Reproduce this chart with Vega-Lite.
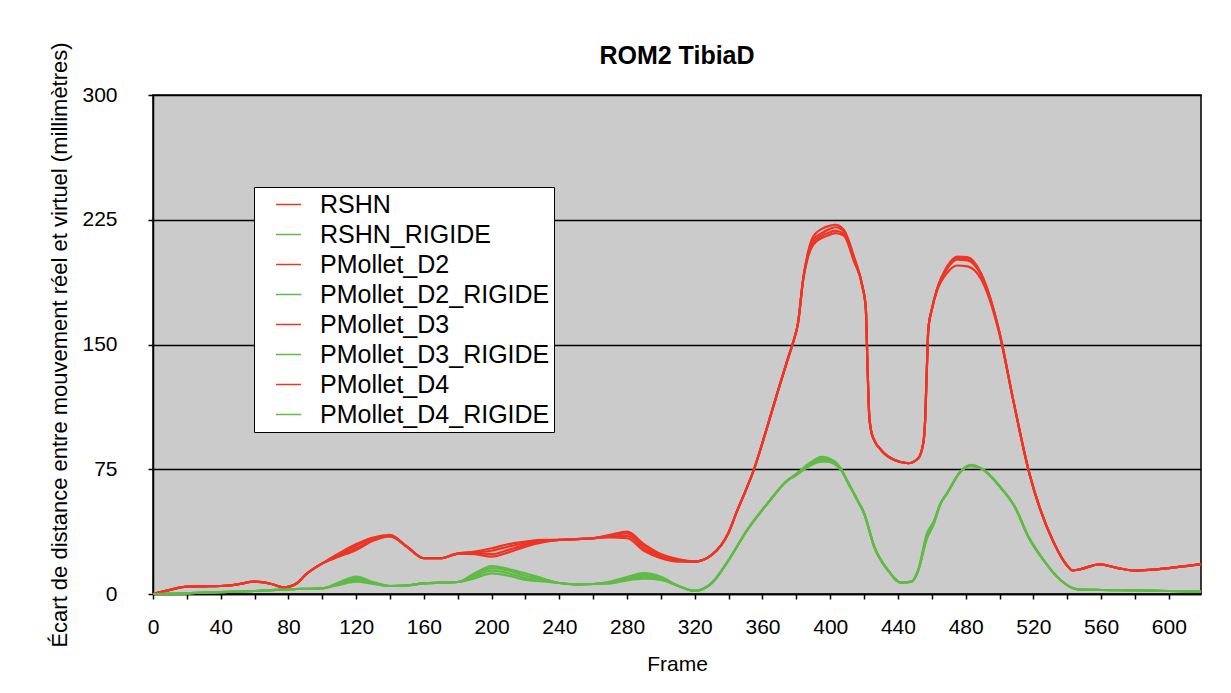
{
  "$schema": "https://vega.github.io/schema/vega-lite/v6.json",
  "width": 1048,
  "height": 499,
  "autosize": {"type": "none"},
  "padding": {"left": 153, "top": 95, "right": 30, "bottom": 99},
  "background": "white",
  "title": {"text": "ROM2 TibiaD", "fontSize": 25, "fontWeight": "bold", "font": "Liberation Sans", "color": "black", "anchor": "middle", "offset": -27},
  "config": {
    "font": "Liberation Sans",
    "view": {"fill": "#cbcbcb", "stroke": "black", "strokeWidth": 1.5}
  },
  "data": {"values": [
    {"f":0,"RSHN":0,"RSHN_RIGIDE":0,"PMollet_D2":0,"PMollet_D2_RIGIDE":0,"PMollet_D3":0,"PMollet_D3_RIGIDE":0,"PMollet_D4":0,"PMollet_D4_RIGIDE":0},
    {"f":10,"RSHN":2.5,"RSHN_RIGIDE":0.2,"PMollet_D2":2.5,"PMollet_D2_RIGIDE":0.2,"PMollet_D3":2.5,"PMollet_D3_RIGIDE":0.2,"PMollet_D4":2.5,"PMollet_D4_RIGIDE":0.2},
    {"f":20,"RSHN":4.4,"RSHN_RIGIDE":0.4,"PMollet_D2":4.4,"PMollet_D2_RIGIDE":0.4,"PMollet_D3":4.4,"PMollet_D3_RIGIDE":0.4,"PMollet_D4":4.4,"PMollet_D4_RIGIDE":0.4},
    {"f":30,"RSHN":4.6,"RSHN_RIGIDE":0.8,"PMollet_D2":4.6,"PMollet_D2_RIGIDE":0.8,"PMollet_D3":4.6,"PMollet_D3_RIGIDE":0.8,"PMollet_D4":4.6,"PMollet_D4_RIGIDE":0.8},
    {"f":40,"RSHN":4.8,"RSHN_RIGIDE":1.1,"PMollet_D2":4.8,"PMollet_D2_RIGIDE":1.1,"PMollet_D3":4.8,"PMollet_D3_RIGIDE":1.1,"PMollet_D4":4.8,"PMollet_D4_RIGIDE":1.1},
    {"f":50,"RSHN":5.8,"RSHN_RIGIDE":1.4,"PMollet_D2":5.8,"PMollet_D2_RIGIDE":1.4,"PMollet_D3":5.8,"PMollet_D3_RIGIDE":1.4,"PMollet_D4":5.8,"PMollet_D4_RIGIDE":1.4},
    {"f":60,"RSHN":7.4,"RSHN_RIGIDE":1.8,"PMollet_D2":7.4,"PMollet_D2_RIGIDE":1.8,"PMollet_D3":7.4,"PMollet_D3_RIGIDE":1.8,"PMollet_D4":7.4,"PMollet_D4_RIGIDE":1.8},
    {"f":70,"RSHN":6,"RSHN_RIGIDE":2.3,"PMollet_D2":6,"PMollet_D2_RIGIDE":2.3,"PMollet_D3":6,"PMollet_D3_RIGIDE":2.3,"PMollet_D4":6,"PMollet_D4_RIGIDE":2.3},
    {"f":77,"RSHN":4,"RSHN_RIGIDE":2.6,"PMollet_D2":4,"PMollet_D2_RIGIDE":2.6,"PMollet_D3":4,"PMollet_D3_RIGIDE":2.6,"PMollet_D4":4,"PMollet_D4_RIGIDE":2.6},
    {"f":85,"RSHN":6.5,"RSHN_RIGIDE":3,"PMollet_D2":6.5,"PMollet_D2_RIGIDE":3,"PMollet_D3":6.5,"PMollet_D3_RIGIDE":3,"PMollet_D4":6.5,"PMollet_D4_RIGIDE":3},
    {"f":90,"RSHN":11.5,"RSHN_RIGIDE":3.1,"PMollet_D2":11.5,"PMollet_D2_RIGIDE":3.1,"PMollet_D3":11.5,"PMollet_D3_RIGIDE":3.1,"PMollet_D4":11.5,"PMollet_D4_RIGIDE":3.1},
    {"f":100,"RSHN":18.4,"RSHN_RIGIDE":3.4,"PMollet_D2":18.4,"PMollet_D2_RIGIDE":3.4,"PMollet_D3":18.4,"PMollet_D3_RIGIDE":3.4,"PMollet_D4":18.4,"PMollet_D4_RIGIDE":3.4},
    {"f":110,"RSHN":24.5,"RSHN_RIGIDE":7,"PMollet_D2":23.5,"PMollet_D2_RIGIDE":6.5,"PMollet_D3":23,"PMollet_D3_RIGIDE":6,"PMollet_D4":22.5,"PMollet_D4_RIGIDE":5.5},
    {"f":120,"RSHN":30,"RSHN_RIGIDE":10.4,"PMollet_D2":29,"PMollet_D2_RIGIDE":9.4,"PMollet_D3":27.5,"PMollet_D3_RIGIDE":8.4,"PMollet_D4":26.5,"PMollet_D4_RIGIDE":7.4},
    {"f":130,"RSHN":34,"RSHN_RIGIDE":7.2,"PMollet_D2":33.5,"PMollet_D2_RIGIDE":6.8,"PMollet_D3":32.5,"PMollet_D3_RIGIDE":6.4,"PMollet_D4":32,"PMollet_D4_RIGIDE":6},
    {"f":140,"RSHN":35.5,"RSHN_RIGIDE":4.8,"PMollet_D2":35,"PMollet_D2_RIGIDE":4.8,"PMollet_D3":34.8,"PMollet_D3_RIGIDE":4.8,"PMollet_D4":34.6,"PMollet_D4_RIGIDE":4.8},
    {"f":150,"RSHN":28.4,"RSHN_RIGIDE":5.2,"PMollet_D2":28.4,"PMollet_D2_RIGIDE":5.2,"PMollet_D3":28.4,"PMollet_D3_RIGIDE":5.2,"PMollet_D4":28.4,"PMollet_D4_RIGIDE":5.2},
    {"f":160,"RSHN":21.5,"RSHN_RIGIDE":6.4,"PMollet_D2":21.5,"PMollet_D2_RIGIDE":6.4,"PMollet_D3":21.5,"PMollet_D3_RIGIDE":6.4,"PMollet_D4":21.5,"PMollet_D4_RIGIDE":6.4},
    {"f":170,"RSHN":21.5,"RSHN_RIGIDE":6.8,"PMollet_D2":21.5,"PMollet_D2_RIGIDE":6.8,"PMollet_D3":21.5,"PMollet_D3_RIGIDE":6.8,"PMollet_D4":21.5,"PMollet_D4_RIGIDE":6.8},
    {"f":180,"RSHN":24.3,"RSHN_RIGIDE":7.2,"PMollet_D2":24.3,"PMollet_D2_RIGIDE":7.2,"PMollet_D3":24.3,"PMollet_D3_RIGIDE":7.2,"PMollet_D4":24.3,"PMollet_D4_RIGIDE":7.2},
    {"f":190,"RSHN":25.5,"RSHN_RIGIDE":12.5,"PMollet_D2":25,"PMollet_D2_RIGIDE":11.5,"PMollet_D3":24.5,"PMollet_D3_RIGIDE":10.5,"PMollet_D4":24,"PMollet_D4_RIGIDE":9.5},
    {"f":200,"RSHN":27.5,"RSHN_RIGIDE":16.8,"PMollet_D2":26,"PMollet_D2_RIGIDE":15.5,"PMollet_D3":24,"PMollet_D3_RIGIDE":14,"PMollet_D4":22.5,"PMollet_D4_RIGIDE":12.4},
    {"f":210,"RSHN":30,"RSHN_RIGIDE":15,"PMollet_D2":28.5,"PMollet_D2_RIGIDE":14,"PMollet_D3":26.5,"PMollet_D3_RIGIDE":12.5,"PMollet_D4":25,"PMollet_D4_RIGIDE":11},
    {"f":220,"RSHN":31.5,"RSHN_RIGIDE":12.4,"PMollet_D2":30.5,"PMollet_D2_RIGIDE":11,"PMollet_D3":29.5,"PMollet_D3_RIGIDE":9.5,"PMollet_D4":28.5,"PMollet_D4_RIGIDE":8.4},
    {"f":230,"RSHN":32.5,"RSHN_RIGIDE":9.4,"PMollet_D2":32,"PMollet_D2_RIGIDE":8.8,"PMollet_D3":31.5,"PMollet_D3_RIGIDE":8.2,"PMollet_D4":31,"PMollet_D4_RIGIDE":7.6},
    {"f":240,"RSHN":32.5,"RSHN_RIGIDE":6.6,"PMollet_D2":32.5,"PMollet_D2_RIGIDE":6.6,"PMollet_D3":32.5,"PMollet_D3_RIGIDE":6.6,"PMollet_D4":32.5,"PMollet_D4_RIGIDE":6.6},
    {"f":250,"RSHN":33,"RSHN_RIGIDE":5.8,"PMollet_D2":33,"PMollet_D2_RIGIDE":5.8,"PMollet_D3":33,"PMollet_D3_RIGIDE":5.8,"PMollet_D4":33,"PMollet_D4_RIGIDE":5.8},
    {"f":260,"RSHN":33.5,"RSHN_RIGIDE":6,"PMollet_D2":33.5,"PMollet_D2_RIGIDE":6,"PMollet_D3":33.5,"PMollet_D3_RIGIDE":6,"PMollet_D4":33.5,"PMollet_D4_RIGIDE":6},
    {"f":270,"RSHN":35.5,"RSHN_RIGIDE":7.5,"PMollet_D2":35,"PMollet_D2_RIGIDE":7,"PMollet_D3":34.5,"PMollet_D3_RIGIDE":6.6,"PMollet_D4":34,"PMollet_D4_RIGIDE":6.3},
    {"f":280,"RSHN":37.5,"RSHN_RIGIDE":10.2,"PMollet_D2":36.5,"PMollet_D2_RIGIDE":9.4,"PMollet_D3":35,"PMollet_D3_RIGIDE":8.8,"PMollet_D4":33.5,"PMollet_D4_RIGIDE":8.2},
    {"f":290,"RSHN":30,"RSHN_RIGIDE":12.5,"PMollet_D2":29,"PMollet_D2_RIGIDE":11.5,"PMollet_D3":27.5,"PMollet_D3_RIGIDE":10.5,"PMollet_D4":26,"PMollet_D4_RIGIDE":9.2},
    {"f":300,"RSHN":24,"RSHN_RIGIDE":10.4,"PMollet_D2":23,"PMollet_D2_RIGIDE":9.6,"PMollet_D3":22,"PMollet_D3_RIGIDE":9,"PMollet_D4":21.5,"PMollet_D4_RIGIDE":8.4},
    {"f":310,"RSHN":21,"RSHN_RIGIDE":5,"PMollet_D2":20.5,"PMollet_D2_RIGIDE":5,"PMollet_D3":20,"PMollet_D3_RIGIDE":5,"PMollet_D4":19.5,"PMollet_D4_RIGIDE":5},
    {"f":320,"RSHN":19.5,"RSHN_RIGIDE":1.9,"PMollet_D2":19.5,"PMollet_D2_RIGIDE":1.9,"PMollet_D3":19.5,"PMollet_D3_RIGIDE":1.9,"PMollet_D4":19.5,"PMollet_D4_RIGIDE":1.9},
    {"f":330,"RSHN":23.5,"RSHN_RIGIDE":6.5,"PMollet_D2":23.5,"PMollet_D2_RIGIDE":6.5,"PMollet_D3":23.5,"PMollet_D3_RIGIDE":6.5,"PMollet_D4":23.5,"PMollet_D4_RIGIDE":6.5},
    {"f":340,"RSHN":37,"RSHN_RIGIDE":20.4,"PMollet_D2":37,"PMollet_D2_RIGIDE":20.4,"PMollet_D3":37,"PMollet_D3_RIGIDE":20.4,"PMollet_D4":37,"PMollet_D4_RIGIDE":20.4},
    {"f":345,"RSHN":50,"PMollet_D2":50,"PMollet_D3":50,"PMollet_D4":50},
    {"f":350,"RSHN":62,"PMollet_D2":62,"PMollet_D3":62,"PMollet_D4":62},
    {"f":355,"RSHN":75,"PMollet_D2":75,"PMollet_D3":75,"PMollet_D4":75},
    {"f":360,"RSHN":91,"PMollet_D2":91,"PMollet_D3":91,"PMollet_D4":91},
    {"f":365,"RSHN":108,"PMollet_D2":108,"PMollet_D3":108,"PMollet_D4":108},
    {"f":370,"RSHN":125,"PMollet_D2":125,"PMollet_D3":125,"PMollet_D4":125},
    {"f":375,"RSHN":141.5,"PMollet_D2":141.5,"PMollet_D3":141.5,"PMollet_D4":141.5},
    {"f":378,"RSHN":151,"PMollet_D2":151,"PMollet_D3":151,"PMollet_D4":151},
    {"f":381,"RSHN":163,"PMollet_D2":163,"PMollet_D3":163,"PMollet_D4":163},
    {"f":384,"RSHN":189,"PMollet_D2":189,"PMollet_D3":189,"PMollet_D4":189},
    {"f":387,"RSHN":206,"PMollet_D2":205,"PMollet_D3":204,"PMollet_D4":203},
    {"f":390,"RSHN":215,"PMollet_D2":213,"PMollet_D3":211,"PMollet_D4":210},
    {"f":395,"RSHN":219.5,"PMollet_D2":217,"PMollet_D3":215.5,"PMollet_D4":214},
    {"f":400,"RSHN":221.5,"PMollet_D2":219.5,"PMollet_D3":217.5,"PMollet_D4":216},
    {"f":403,"RSHN":222,"PMollet_D2":220.5,"PMollet_D3":218.5,"PMollet_D4":217},
    {"f":408,"RSHN":219,"PMollet_D2":218,"PMollet_D3":216.5,"PMollet_D4":215.5},
    {"f":414,"RSHN":203,"PMollet_D2":202,"PMollet_D3":201,"PMollet_D4":200},
    {"f":419,"RSHN":185,"PMollet_D2":185,"PMollet_D3":185,"PMollet_D4":185},
    {"f":421,"RSHN":172,"PMollet_D2":172,"PMollet_D3":172,"PMollet_D4":172},
    {"f":422,"RSHN":138,"PMollet_D2":138,"PMollet_D3":138,"PMollet_D4":138},
    {"f":423,"RSHN":108,"PMollet_D2":108,"PMollet_D3":108,"PMollet_D4":108},
    {"f":424,"RSHN":99,"PMollet_D2":99,"PMollet_D3":99,"PMollet_D4":99},
    {"f":426,"RSHN":92.5,"PMollet_D2":92.5,"PMollet_D3":92.5,"PMollet_D4":92.5},
    {"f":430,"RSHN":86.6,"PMollet_D2":86.6,"PMollet_D3":86.6,"PMollet_D4":86.6},
    {"f":438,"RSHN":80.5,"PMollet_D2":80.5,"PMollet_D3":80.5,"PMollet_D4":80.5},
    {"f":446,"RSHN":78.6,"PMollet_D2":78.6,"PMollet_D3":78.6,"PMollet_D4":78.6},
    {"f":452,"RSHN":81.6,"PMollet_D2":81.6,"PMollet_D3":81.6,"PMollet_D4":81.6},
    {"f":455,"RSHN":91,"PMollet_D2":91,"PMollet_D3":91,"PMollet_D4":91},
    {"f":456,"RSHN":103,"PMollet_D2":103,"PMollet_D3":103,"PMollet_D4":103},
    {"f":457,"RSHN":133,"PMollet_D2":133,"PMollet_D3":133,"PMollet_D4":133},
    {"f":458,"RSHN":160,"PMollet_D2":160,"PMollet_D3":160,"PMollet_D4":160},
    {"f":460,"RSHN":171,"PMollet_D2":171,"PMollet_D3":171,"PMollet_D4":171},
    {"f":463,"RSHN":183,"PMollet_D2":183,"PMollet_D3":183,"PMollet_D4":182},
    {"f":469,"RSHN":196.8,"PMollet_D2":196,"PMollet_D3":195.5,"PMollet_D4":193},
    {"f":475,"RSHN":202.8,"PMollet_D2":202,"PMollet_D3":201,"PMollet_D4":197.5},
    {"f":481,"RSHN":202.5,"PMollet_D2":201.5,"PMollet_D3":200.5,"PMollet_D4":197},
    {"f":489,"RSHN":193,"PMollet_D2":192.5,"PMollet_D3":192,"PMollet_D4":189.5},
    {"f":500,"RSHN":157,"PMollet_D2":157,"PMollet_D3":157,"PMollet_D4":156},
    {"f":508,"RSHN":117,"PMollet_D2":117,"PMollet_D3":117,"PMollet_D4":117},
    {"f":518,"RSHN":71,"PMollet_D2":71,"PMollet_D3":71,"PMollet_D4":71},
    {"f":524,"RSHN":51,"PMollet_D2":51,"PMollet_D3":51,"PMollet_D4":51},
    {"f":532,"RSHN":31,"PMollet_D2":31,"PMollet_D3":31,"PMollet_D4":31},
    {"f":540,"RSHN":17,"PMollet_D2":17,"PMollet_D3":17,"PMollet_D4":17},
    {"f":543,"RSHN":14.2,"PMollet_D2":14.2,"PMollet_D3":14.2,"PMollet_D4":14.2},
    {"f":548,"RSHN":15,"PMollet_D2":15,"PMollet_D3":15,"PMollet_D4":15},
    {"f":559,"RSHN":17.8,"PMollet_D2":17.8,"PMollet_D3":17.8,"PMollet_D4":17.8},
    {"f":570,"RSHN":15.6,"PMollet_D2":15.6,"PMollet_D3":15.6,"PMollet_D4":15.6},
    {"f":580,"RSHN":14,"PMollet_D2":14,"PMollet_D3":14,"PMollet_D4":14},
    {"f":590,"RSHN":14.6,"PMollet_D2":14.6,"PMollet_D3":14.6,"PMollet_D4":14.6},
    {"f":600,"RSHN":15.6,"PMollet_D2":15.6,"PMollet_D3":15.6,"PMollet_D4":15.6},
    {"f":610,"RSHN":16.8,"PMollet_D2":16.8,"PMollet_D3":16.8,"PMollet_D4":16.8},
    {"f":619,"RSHN":18,"PMollet_D2":18,"PMollet_D3":18,"PMollet_D4":18},
    {"f":351,"RSHN_RIGIDE":38.5,"PMollet_D2_RIGIDE":38.5,"PMollet_D3_RIGIDE":38.5,"PMollet_D4_RIGIDE":38.5},
    {"f":363,"RSHN_RIGIDE":54.5,"PMollet_D2_RIGIDE":54.5,"PMollet_D3_RIGIDE":54.5,"PMollet_D4_RIGIDE":54.5},
    {"f":375,"RSHN_RIGIDE":68.5,"PMollet_D2_RIGIDE":68.5,"PMollet_D3_RIGIDE":68.5,"PMollet_D4_RIGIDE":68.5},
    {"f":379,"RSHN_RIGIDE":71.5,"PMollet_D2_RIGIDE":71.3,"PMollet_D3_RIGIDE":71,"PMollet_D4_RIGIDE":70.8},
    {"f":387,"RSHN_RIGIDE":78,"PMollet_D2_RIGIDE":77.5,"PMollet_D3_RIGIDE":77,"PMollet_D4_RIGIDE":76.5},
    {"f":395,"RSHN_RIGIDE":82.5,"PMollet_D2_RIGIDE":81.5,"PMollet_D3_RIGIDE":80.5,"PMollet_D4_RIGIDE":79.5},
    {"f":398,"RSHN_RIGIDE":82,"PMollet_D2_RIGIDE":81.3,"PMollet_D3_RIGIDE":80.3,"PMollet_D4_RIGIDE":79.5},
    {"f":406,"RSHN_RIGIDE":76,"PMollet_D2_RIGIDE":75.6,"PMollet_D3_RIGIDE":75.2,"PMollet_D4_RIGIDE":74.8},
    {"f":410,"RSHN_RIGIDE":68,"PMollet_D2_RIGIDE":68,"PMollet_D3_RIGIDE":68,"PMollet_D4_RIGIDE":68},
    {"f":416,"RSHN_RIGIDE":56.5,"PMollet_D2_RIGIDE":56.5,"PMollet_D3_RIGIDE":56.5,"PMollet_D4_RIGIDE":56.5},
    {"f":420,"RSHN_RIGIDE":48.5,"PMollet_D2_RIGIDE":48.5,"PMollet_D3_RIGIDE":48.5,"PMollet_D4_RIGIDE":48.5},
    {"f":426,"RSHN_RIGIDE":28.4,"PMollet_D2_RIGIDE":28.4,"PMollet_D3_RIGIDE":28.4,"PMollet_D4_RIGIDE":28.4},
    {"f":434,"RSHN_RIGIDE":14.4,"PMollet_D2_RIGIDE":14.4,"PMollet_D3_RIGIDE":14.4,"PMollet_D4_RIGIDE":14.4},
    {"f":442,"RSHN_RIGIDE":6.8,"PMollet_D2_RIGIDE":6.8,"PMollet_D3_RIGIDE":6.8,"PMollet_D4_RIGIDE":6.8},
    {"f":448,"RSHN_RIGIDE":7.4,"PMollet_D2_RIGIDE":7.4,"PMollet_D3_RIGIDE":7.4,"PMollet_D4_RIGIDE":7.4},
    {"f":452,"RSHN_RIGIDE":14.4,"PMollet_D2_RIGIDE":14.4,"PMollet_D3_RIGIDE":14.4,"PMollet_D4_RIGIDE":14.4},
    {"f":457,"RSHN_RIGIDE":36,"PMollet_D2_RIGIDE":34.5,"PMollet_D3_RIGIDE":33.5,"PMollet_D4_RIGIDE":33},
    {"f":461,"RSHN_RIGIDE":43.5,"PMollet_D2_RIGIDE":42.5,"PMollet_D3_RIGIDE":42,"PMollet_D4_RIGIDE":41.5},
    {"f":465,"RSHN_RIGIDE":54,"PMollet_D2_RIGIDE":54,"PMollet_D3_RIGIDE":54,"PMollet_D4_RIGIDE":54},
    {"f":469,"RSHN_RIGIDE":60.5,"PMollet_D2_RIGIDE":60.5,"PMollet_D3_RIGIDE":60.5,"PMollet_D4_RIGIDE":60.5},
    {"f":477,"RSHN_RIGIDE":73.6,"PMollet_D2_RIGIDE":73.6,"PMollet_D3_RIGIDE":73.6,"PMollet_D4_RIGIDE":73.6},
    {"f":483,"RSHN_RIGIDE":77.6,"PMollet_D2_RIGIDE":77.3,"PMollet_D3_RIGIDE":77,"PMollet_D4_RIGIDE":76.8},
    {"f":489,"RSHN_RIGIDE":75.6,"PMollet_D2_RIGIDE":75.6,"PMollet_D3_RIGIDE":75.6,"PMollet_D4_RIGIDE":75.6},
    {"f":501,"RSHN_RIGIDE":63.6,"PMollet_D2_RIGIDE":63.6,"PMollet_D3_RIGIDE":63.6,"PMollet_D4_RIGIDE":63.6},
    {"f":509,"RSHN_RIGIDE":52.5,"PMollet_D2_RIGIDE":52.5,"PMollet_D3_RIGIDE":52.5,"PMollet_D4_RIGIDE":52.5},
    {"f":517,"RSHN_RIGIDE":34.5,"PMollet_D2_RIGIDE":34.5,"PMollet_D3_RIGIDE":34.5,"PMollet_D4_RIGIDE":34.5},
    {"f":526,"RSHN_RIGIDE":20.4,"PMollet_D2_RIGIDE":20.4,"PMollet_D3_RIGIDE":20.4,"PMollet_D4_RIGIDE":20.4},
    {"f":536,"RSHN_RIGIDE":8.4,"PMollet_D2_RIGIDE":8.4,"PMollet_D3_RIGIDE":8.4,"PMollet_D4_RIGIDE":8.4},
    {"f":546,"RSHN_RIGIDE":2.8,"PMollet_D2_RIGIDE":2.8,"PMollet_D3_RIGIDE":2.8,"PMollet_D4_RIGIDE":2.8},
    {"f":560,"RSHN_RIGIDE":2.4,"PMollet_D2_RIGIDE":2.4,"PMollet_D3_RIGIDE":2.4,"PMollet_D4_RIGIDE":2.4},
    {"f":580,"RSHN_RIGIDE":2.2,"PMollet_D2_RIGIDE":2.2,"PMollet_D3_RIGIDE":2.2,"PMollet_D4_RIGIDE":2.2},
    {"f":600,"RSHN_RIGIDE":1.8,"PMollet_D2_RIGIDE":1.8,"PMollet_D3_RIGIDE":1.8,"PMollet_D4_RIGIDE":1.8},
    {"f":619,"RSHN_RIGIDE":1.4,"PMollet_D2_RIGIDE":1.4,"PMollet_D3_RIGIDE":1.4,"PMollet_D4_RIGIDE":1.4}
  ]},
  "transform": [
    {"fold": ["RSHN","RSHN_RIGIDE","PMollet_D2","PMollet_D2_RIGIDE","PMollet_D3","PMollet_D3_RIGIDE","PMollet_D4","PMollet_D4_RIGIDE"], "as": ["serie","valeur"]},
    {"filter": "isValid(datum.valeur)"}
  ],
  "mark": {"type": "line", "interpolate": "monotone", "strokeWidth": 2.2},
  "encoding": {
    "x": {
      "field": "f", "type": "quantitative",
      "scale": {"domain": [0, 619], "nice": false, "zero": false},
      "axis": {
        "title": "Frame",
        "values": [0,20,40,60,80,100,120,140,160,180,200,220,240,260,280,300,320,340,360,380,400,420,440,460,480,500,520,540,560,580,600],
        "labelExpr": "datum.value % 40 == 0 ? datum.label : ''",
        "grid": false,
        "domainColor": "black", "domainWidth": 1.5,
        "tickColor": "black", "tickWidth": 1.5, "tickSize": 5,
        "labelFontSize": 21, "labelColor": "black", "labelBaseline": "alphabetic", "labelPadding": 34, "labelFlush": false,
        "titleFontSize": 21, "titleFontWeight": "normal", "titleColor": "black", "titleBaseline": "alphabetic", "titleY": 76
      }
    },
    "y": {
      "field": "valeur", "type": "quantitative",
      "scale": {"domain": [0, 300], "nice": false},
      "axis": {
        "title": "Écart de distance entre mouvement réel et virtuel (millimètres)",
        "values": [0, 75, 150, 225, 300],
        "grid": true, "gridColor": "black", "gridWidth": 1.5, "gridOpacity": 1,
        "domainColor": "black", "domainWidth": 1.5,
        "tickColor": "black", "tickWidth": 1.5, "tickSize": 5,
        "labelFontSize": 21, "labelColor": "black", "labelPadding": 31,
        "titleFontSize": 22, "titleFontWeight": "normal", "titleColor": "black",
        "titleBaseline": "alphabetic", "titleAngle": -90, "titleAlign": "center", "titleX": -87, "titleY": 249.5
      }
    },
    "color": {
      "field": "serie", "type": "nominal",
      "scale": {
        "domain": ["RSHN","RSHN_RIGIDE","PMollet_D2","PMollet_D2_RIGIDE","PMollet_D3","PMollet_D3_RIGIDE","PMollet_D4","PMollet_D4_RIGIDE"],
        "range": ["#ee3524","#60bb46","#ee3524","#60bb46","#ee3524","#60bb46","#ee3524","#60bb46"]
      },
      "legend": {
        "title": null, "orient": "none", "legendX": 101, "legendY": 92,
        "fillColor": "white", "strokeColor": "black", "padding": 4,
        "symbolType": "stroke", "symbolSize": 625, "symbolStrokeWidth": 1.5, "symbolOffset": 17,
        "labelOffset": 18, "labelFontSize": 25, "labelColor": "black", "labelLimit": 500, "rowPadding": 3,
        "labelExpr": "datum.label + '\u00a0\u00a0\u00a0'"
      }
    }
  }
}
